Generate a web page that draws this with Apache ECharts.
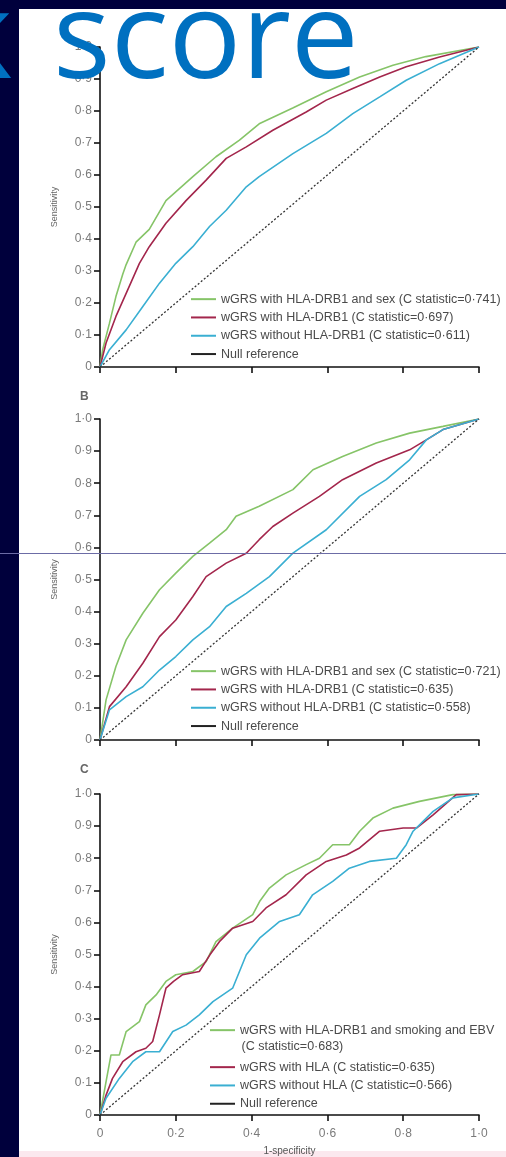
<!DOCTYPE html>
<html>
<head>
<meta charset="utf-8">
<script src="https://cdn.jsdelivr.net/npm/echarts@6/dist/echarts.min.js"></script>
<style>
  html, body { margin: 0; padding: 0; background: #00003c; }
  #chart { width: 506px; height: 1157px; }
</style>
</head>
<body>
<div id="chart"></div>
<script>
// tick labels
var xTicks = [0, 0.2, 0.4, 0.6, 0.8, 1]
var yTicks = [0, 0.1, 0.2, 0.3, 0.4, 0.5, 0.6, 0.7, 0.8, 0.9, 1]
var nullRef = [[0, 0], [1, 1]]

// panel A
var namesA = [
  'wGRS with HLA-DRB1 and sex (C statistic=0·741)',
  'wGRS with HLA-DRB1 (C statistic=0·697)',
  'wGRS without HLA-DRB1 (C statistic=0·611)'
]
var greenA = [[0, 0], [0.007, 0.054], [0.025, 0.137], [0.042, 0.22], [0.06, 0.29], [0.069, 0.32], [0.095, 0.39],
  [0.13, 0.43], [0.174, 0.52], [0.245, 0.595], [0.306, 0.657], [0.368, 0.709], [0.42, 0.76], [0.51, 0.81],
  [0.597, 0.86], [0.685, 0.906], [0.773, 0.943], [0.86, 0.97], [1, 1]]
var redA = [[0, 0], [0.016, 0.075], [0.042, 0.158], [0.069, 0.23], [0.104, 0.324], [0.13, 0.376], [0.174, 0.449],
  [0.227, 0.52], [0.28, 0.584], [0.333, 0.652], [0.386, 0.688], [0.456, 0.74], [0.544, 0.797], [0.597, 0.834],
  [0.667, 0.87], [0.738, 0.906], [0.808, 0.938], [0.896, 0.969], [1, 1]]
var blueA = [[0, 0], [0.025, 0.054], [0.069, 0.116], [0.113, 0.189], [0.157, 0.262], [0.2, 0.324], [0.245, 0.376],
  [0.289, 0.439], [0.333, 0.49], [0.386, 0.563], [0.42, 0.595], [0.509, 0.667], [0.597, 0.73], [0.667, 0.792],
  [0.738, 0.844], [0.808, 0.896], [0.896, 0.948], [1, 1]]

// panel B
var namesB = [
  'wGRS with HLA-DRB1 and sex (C statistic=0·721)',
  'wGRS with HLA-DRB1 (C statistic=0·635)',
  'wGRS without HLA-DRB1 (C statistic=0·558)'
]
var greenB = [[0, 0], [0.016, 0.125], [0.042, 0.229], [0.069, 0.312], [0.113, 0.395], [0.157, 0.468], [0.2, 0.52],
  [0.245, 0.572], [0.289, 0.613], [0.333, 0.655], [0.359, 0.697], [0.42, 0.728], [0.509, 0.78], [0.562, 0.842],
  [0.64, 0.883], [0.729, 0.925], [0.817, 0.956], [0.905, 0.977], [1, 1]]
var redB = [[0, 0], [0.025, 0.104], [0.069, 0.166], [0.113, 0.239], [0.157, 0.322], [0.2, 0.374], [0.245, 0.447],
  [0.28, 0.509], [0.333, 0.551], [0.386, 0.582], [0.42, 0.624], [0.456, 0.665], [0.509, 0.707], [0.579, 0.759],
  [0.64, 0.811], [0.729, 0.863], [0.817, 0.904], [0.861, 0.935], [0.905, 0.967], [1, 1]]
var blueB = [[0, 0], [0.025, 0.094], [0.069, 0.135], [0.113, 0.166], [0.157, 0.218], [0.2, 0.26], [0.245, 0.312],
  [0.289, 0.353], [0.333, 0.416], [0.386, 0.457], [0.447, 0.509], [0.509, 0.582], [0.597, 0.655], [0.685, 0.759],
  [0.755, 0.811], [0.817, 0.873], [0.861, 0.935], [0.905, 0.967], [1, 1]]

// panel C
var namesC = [
  'wGRS with HLA-DRB1 and smoking and EBV',
  'wGRS with HLA (C statistic=0·635)',
  'wGRS without HLA (C statistic=0·566)'
]
var greenC = [[0, 0], [0.016, 0.104], [0.029, 0.187], [0.051, 0.187], [0.069, 0.26], [0.104, 0.291], [0.121, 0.343],
  [0.148, 0.374], [0.174, 0.416], [0.2, 0.437], [0.245, 0.447], [0.28, 0.478], [0.306, 0.54], [0.35, 0.582],
  [0.403, 0.624], [0.421, 0.665], [0.447, 0.707], [0.491, 0.748], [0.544, 0.78], [0.579, 0.8], [0.614, 0.842],
  [0.658, 0.842], [0.685, 0.884], [0.72, 0.925], [0.773, 0.956], [0.843, 0.977], [0.931, 0.998], [1, 1]]
var redC = [[0, 0], [0.016, 0.062], [0.033, 0.114], [0.06, 0.166], [0.095, 0.197], [0.121, 0.208], [0.139, 0.229],
  [0.157, 0.312], [0.174, 0.395], [0.194, 0.416], [0.218, 0.437], [0.262, 0.447], [0.29, 0.499], [0.315, 0.54],
  [0.35, 0.582], [0.403, 0.603], [0.438, 0.645], [0.491, 0.686], [0.544, 0.748], [0.597, 0.79], [0.65, 0.81],
  [0.685, 0.832], [0.738, 0.884], [0.8, 0.894], [0.835, 0.894], [0.879, 0.935], [0.94, 0.998], [1, 1]]
var blueC = [[0, 0], [0.016, 0.052], [0.051, 0.114], [0.086, 0.166], [0.121, 0.197], [0.157, 0.197], [0.192, 0.26],
  [0.227, 0.28], [0.262, 0.312], [0.298, 0.353], [0.35, 0.395], [0.386, 0.499], [0.421, 0.551], [0.474, 0.603],
  [0.526, 0.624], [0.561, 0.686], [0.614, 0.728], [0.658, 0.769], [0.711, 0.79], [0.782, 0.8], [0.808, 0.842],
  [0.826, 0.884], [0.879, 0.946], [0.931, 0.988], [1, 1]]

var colors = ['#86c468', '#a3264c', '#3aafd2']
var font = 'Liberation Sans'

function fmt(v) {
  return v === 0 ? '0' : v.toFixed(1).replace('.', '·')
}

function xAxis(idx, showLabel) {
  return {
    type: 'value', gridIndex: idx, min: 0, max: 1, interval: 0.2,
    name: showLabel ? '1-specificity' : '', nameLocation: 'middle', nameGap: 31,
    nameTextStyle: { color: '#555', fontSize: 10, fontFamily: font },
    axisLine: { lineStyle: { color: '#111', width: 1.6 } },
    axisTick: { length: 6, lineStyle: { color: '#111', width: 1.6 } },
    axisLabel: { show: showLabel, formatter: fmt, color: '#7a7a7a', fontSize: 12, fontFamily: font, margin: 13 },
    splitLine: { show: false }
  }
}

function yAxis(idx) {
  return {
    type: 'value', gridIndex: idx, min: 0, max: 1, interval: 0.1,
    name: 'Sensitivity', nameLocation: 'middle', nameGap: 41,
    nameTextStyle: { color: '#666', fontSize: 9, fontFamily: font },
    axisLine: { lineStyle: { color: '#111', width: 1.6 } },
    axisTick: { length: 6, lineStyle: { color: '#111', width: 1.6 } },
    axisLabel: { formatter: fmt, color: '#7a7a7a', fontSize: 12, fontFamily: font, margin: 8 },
    splitLine: { show: false }
  }
}

function curve(name, data, idx, color) {
  return {
    name: name, type: 'line', data: data, xAxisIndex: idx, yAxisIndex: idx,
    showSymbol: false, symbol: 'none', color: color,
    lineStyle: { color: color, width: 1.6 }
  }
}

function nullLine(idx) {
  return {
    name: 'Null reference', type: 'line', data: nullRef, xAxisIndex: idx, yAxisIndex: idx,
    showSymbol: false, symbol: 'none', color: '#222',
    lineStyle: { color: '#333', width: 1.3, type: [2, 2] }
  }
}

function legend(items, left, top) {
  return {
    data: items, left: left, top: top, orient: 'vertical', padding: 0, itemGap: 0,
    icon: 'rect', itemWidth: 25, itemHeight: 2, selectedMode: false,
    textStyle: { color: '#4a4a4a', fontSize: 12.5, fontFamily: font, lineHeight: 18.3 }
  }
}

var chart = echarts.init(document.getElementById('chart'))

chart.setOption({
  animation: false,
  backgroundColor: '#00003c',
  grid: [
    { left: 100, top: 47, width: 379, height: 320 },
    { left: 100, top: 419, width: 379, height: 321 },
    { left: 100, top: 794, width: 379, height: 321 }
  ],
  xAxis: [xAxis(0, false), xAxis(1, false), xAxis(2, true)],
  yAxis: [yAxis(0), yAxis(1), yAxis(2)],
  legend: [
    legend(namesA.concat(['Null reference']), 191, 290),
    legend(namesB.concat(['Null reference']), 191, 662),
    legend([namesC[0]], 210, 1021),
    legend([namesC[1], namesC[2], 'Null reference'], 210, 1058)
  ],
  graphic: [
    { type: 'rect', z: -10, shape: { x: 19, y: 9, width: 487, height: 1148 }, style: { fill: '#ffffff' } },
    { type: 'rect', z: -9, shape: { x: 19, y: 1151, width: 487, height: 6 }, style: { fill: '#fbe8ee' } },
    { type: 'text', left: 80, top: 391, style: { text: 'B', fill: '#666', font: 'bold 12px Liberation Sans' } },
    { type: 'text', left: 80, top: 764, style: { text: 'C', fill: '#666', font: 'bold 12px Liberation Sans' } },
    { type: 'text', left: 241.5, top: 1040, style: { text: '(C statistic=0·683)', fill: '#4a4a4a', font: '12.5px Liberation Sans' } },
    { type: 'text', z: 100, x: 53, y: 44, style: { text: 'score', fill: '#0070c0', font: '121px Open Sans', verticalAlign: 'middle' } },
    { type: 'text', z: 100, x: 12, y: 44, style: { text: 'k', fill: '#0070c0', font: '121px Open Sans', align: 'right', verticalAlign: 'middle' } },
    { type: 'line', z: 100, shape: { x1: 0, y1: 553.5, x2: 506, y2: 553.5 }, style: { stroke: '#6c6ca6', lineWidth: 1 } }
  ],
  series: [
    curve(namesA[0], greenA, 0, colors[0]),
    curve(namesA[1], redA, 0, colors[1]),
    curve(namesA[2], blueA, 0, colors[2]),
    nullLine(0),
    curve(namesB[0], greenB, 1, colors[0]),
    curve(namesB[1], redB, 1, colors[1]),
    curve(namesB[2], blueB, 1, colors[2]),
    nullLine(1),
    curve(namesC[0], greenC, 2, colors[0]),
    curve(namesC[1], redC, 2, colors[1]),
    curve(namesC[2], blueC, 2, colors[2]),
    nullLine(2)
  ]
})
</script>
</body>
</html>
